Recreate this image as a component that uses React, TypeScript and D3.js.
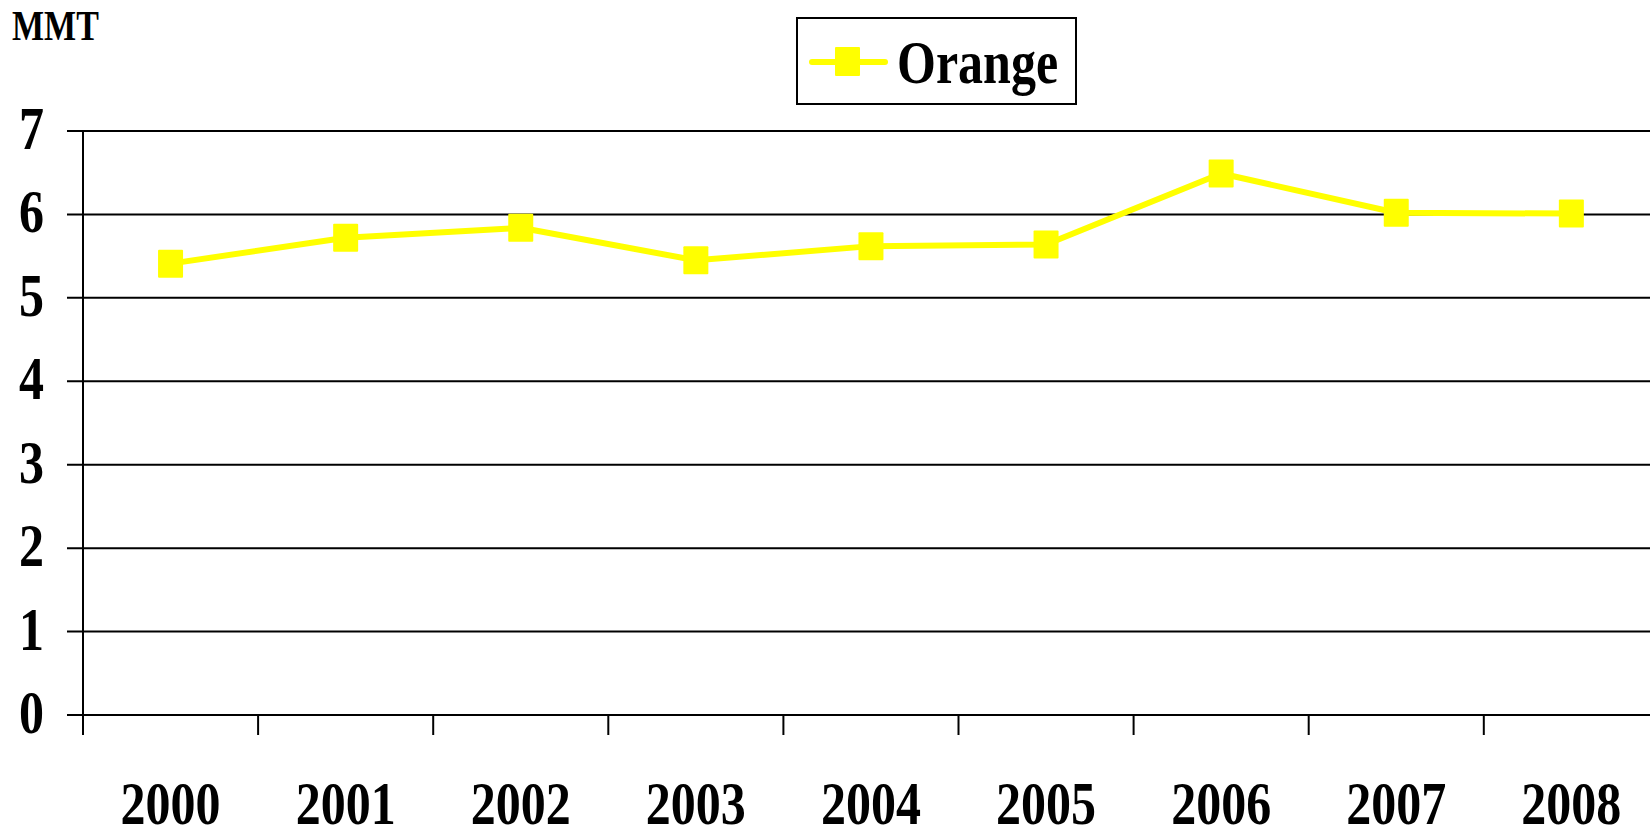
import React from "react";
import * as d3 from "d3";

const years = ["2000", "2001", "2002", "2003", "2004", "2005", "2006", "2007", "2008"];
const orangeValues = [5.41, 5.72, 5.84, 5.45, 5.62, 5.64, 6.49, 6.02, 6.01];
const yTicks = [0, 1, 2, 3, 4, 5, 6, 7];
const seriesName = "Orange";
const unitLabel = "MMT";

const W = 1650;
const H = 830;
const FONT = "'Liberation Serif', 'Times New Roman', serif";
const SY = 1.22;

export default function App() {
  const x = d3.scaleBand<string>().domain(years).range([83, 83 + 9 * 175.1]).padding(0);
  const y = d3.scaleLinear().domain([0, 7]).range([715, 131]);
  const line = d3
    .line<number>()
    .x((_, i) => (x(years[i]) as number) + x.bandwidth() / 2)
    .y((d) => y(d));
  const y0 = y(0);

  return (
    <svg
      width={W}
      height={H}
      style={{ position: "absolute", left: 0, top: 0, background: "#fff" }}
    >
      <rect x={0} y={0} width={W} height={H} fill="#fff" />
      {yTicks.map((t) => (
        <line key={"g" + t} x1={67} x2={W} y1={y(t)} y2={y(t)} stroke="#000" strokeWidth={2} />
      ))}
      <line x1={83} x2={83} y1={y(7)} y2={y0 + 20} stroke="#000" strokeWidth={2} />
      {years.map((yr) => (
        <line
          key={"xt" + yr}
          x1={x(yr) as number}
          x2={x(yr) as number}
          y1={y0}
          y2={y0 + 20}
          stroke="#000"
          strokeWidth={2}
        />
      ))}
      {yTicks.map((t) => (
        <text
          key={"yl" + t}
          transform={`translate(44, ${y(t) + 18}) scale(1, ${SY})`}
          textAnchor="end"
          fontFamily={FONT}
          fontWeight="bold"
          fontSize={50}
          fill="#000"
        >
          {t}
        </text>
      ))}
      {years.map((yr) => (
        <text
          key={"xl" + yr}
          transform={`translate(${(x(yr) as number) + x.bandwidth() / 2}, 824) scale(1, ${SY})`}
          textAnchor="middle"
          fontFamily={FONT}
          fontWeight="bold"
          fontSize={50}
          fill="#000"
        >
          {yr}
        </text>
      ))}
      <text
        transform={`translate(12, 40) scale(1, ${SY})`}
        fontFamily={FONT}
        fontWeight="bold"
        fontSize={34}
        fill="#000"
      >
        {unitLabel}
      </text>
      <path d={line(orangeValues) || ""} fill="none" stroke="#FFFF00" strokeWidth={6} strokeLinejoin="round" />
      {orangeValues.map((v, i) => (
        <rect
          key={"m" + i}
          x={(x(years[i]) as number) + x.bandwidth() / 2 - 12.5}
          y={y(v) - 14}
          width={25}
          height={28}
          rx={1}
          fill="#FFFF00"
        />
      ))}
      <rect x={797} y={18} width={279} height={86} fill="#fff" stroke="#000" strokeWidth={2} />
      <line x1={812} x2={885} y1={62} y2={62} stroke="#FFFF00" strokeWidth={6} strokeLinecap="round" />
      <rect x={835} y={47} width={25} height={29} rx={1} fill="#FFFF00" />
      <text
        transform={`translate(897, 83) scale(1, ${SY})`}
        fontFamily={FONT}
        fontWeight="bold"
        fontSize={50}
        fill="#000"
      >
        {seriesName}
      </text>
    </svg>
  );
}
